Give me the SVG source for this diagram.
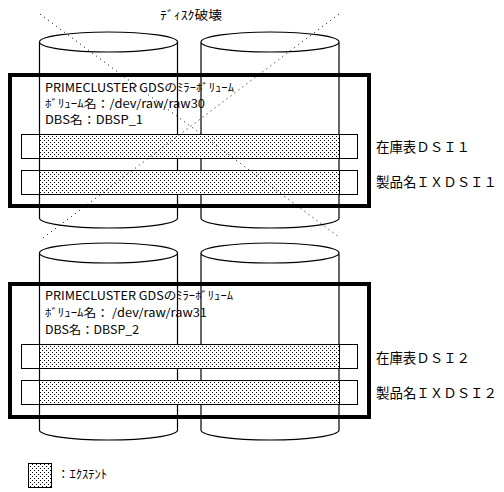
<svg xmlns="http://www.w3.org/2000/svg" width="504" height="492" viewBox="0 0 504 492">
<style>
.cyl{fill:none;stroke:#000;stroke-width:1.2}
.box{fill:none;stroke:#000;stroke-width:4}
.row{fill:#fff;stroke:#000;stroke-width:1}
.ext{fill:url(#dots);stroke:#000;stroke-width:1}
.dot{fill:none;stroke:#000;stroke-width:1;stroke-dasharray:1 4}
text{font-family:"Noto Sans CJK JP","Liberation Sans",sans-serif;font-size:11.5px;fill:#000}
.lbl{font-size:13.5px}
</style>
<defs>
<pattern id="dots" width="4" height="4" patternUnits="userSpaceOnUse">
<rect width="4" height="4" fill="#fff"/>
<rect x="0" y="0" width="1" height="1" fill="#000"/>
<rect x="2" y="2" width="1" height="1" fill="#000"/>
</pattern>
</defs>
<rect width="504" height="492" fill="#fff"/>
<g id="disk-1a">
<path class="cyl" d="M39.5 42 A69 10 0 0 1 177.5 42 A69 10 0 0 1 39.5 42 Z M39.5 42 V218 A69 10 0 0 0 177.5 218 V42"/>
</g>
<g id="disk-1b">
<path class="cyl" d="M201 42 A69 10 0 0 1 339 42 A69 10 0 0 1 201 42 Z M201 42 V218 A69 10 0 0 0 339 218 V42"/>
</g>
<g id="disk-2a">
<path class="cyl" d="M39.5 253 A69 10 0 0 1 177.5 253 A69 10 0 0 1 39.5 253 Z M39.5 253 V430 A69 10 0 0 0 177.5 430 V253"/>
</g>
<g id="disk-2b">
<path class="cyl" d="M201 253 A69 10 0 0 1 339 253 A69 10 0 0 1 201 253 Z M201 253 V430 A69 10 0 0 0 339 430 V253"/>
</g>
<g id="volume-1">
<rect class="box" x="10" y="75" width="359" height="131"/>
<text x="45" y="92" textLength="189" lengthAdjust="spacingAndGlyphs">PRIMECLUSTER GDSのﾐﾗｰﾎﾞﾘｭｰﾑ</text>
<text x="45" y="107.5" textLength="160" lengthAdjust="spacingAndGlyphs">ﾎﾞﾘｭｰﾑ名：/dev/raw/raw30</text>
<text x="45" y="123.5" textLength="98" lengthAdjust="spacingAndGlyphs">DBS名：DBSP_1</text>
<rect class="row" x="21.5" y="134.5" width="336" height="24"/>
<rect class="ext" x="39.5" y="134.5" width="300" height="24"/>
<rect class="row" x="21.5" y="170.5" width="336" height="24"/>
<rect class="ext" x="39.5" y="170.5" width="300" height="24"/>
<text class="lbl" x="376" y="152" textLength="94" lengthAdjust="spacingAndGlyphs">在庫表ＤＳＩ１</text>
<text class="lbl" x="376" y="187" textLength="121" lengthAdjust="spacingAndGlyphs">製品名ＩＸＤＳＩ１</text>
</g>
<g id="volume-2">
<rect class="box" x="10" y="284" width="359" height="133"/>
<text x="45" y="300" textLength="188" lengthAdjust="spacingAndGlyphs">PRIMECLUSTER GDSのﾐﾗｰﾎﾞﾘｭｰﾑ</text>
<text x="45" y="317" textLength="162" lengthAdjust="spacingAndGlyphs">ﾎﾞﾘｭｰﾑ名： /dev/raw/raw31</text>
<text x="45" y="334" textLength="94" lengthAdjust="spacingAndGlyphs">DBS名：DBSP_2</text>
<rect class="row" x="21.5" y="344.5" width="336" height="24"/>
<rect class="ext" x="39.5" y="344.5" width="300" height="24"/>
<rect class="row" x="21.5" y="380.5" width="336" height="24"/>
<rect class="ext" x="39.5" y="380.5" width="300" height="24"/>
<text class="lbl" x="376" y="363" textLength="94" lengthAdjust="spacingAndGlyphs">在庫表ＤＳＩ２</text>
<text class="lbl" x="376" y="398" textLength="121" lengthAdjust="spacingAndGlyphs">製品名ＩＸＤＳＩ２</text>
</g>
<g id="connectors">
<line class="dot" x1="40" y1="14" x2="339" y2="237"/>
<line class="dot" x1="339" y1="14" x2="43" y2="238"/>
</g>
<g id="title">
<text x="160" y="20" textLength="62" lengthAdjust="spacingAndGlyphs" style="font-size:12.5px">ﾃﾞｨｽｸ破壊</text>
</g>
<g id="legend">
<rect class="ext" x="28.5" y="463.5" width="23" height="24"/>
<text x="57" y="479" textLength="50" lengthAdjust="spacingAndGlyphs" style="font-size:12.5px">：ｴｸｽﾃﾝﾄ</text>
</g>
</svg>
